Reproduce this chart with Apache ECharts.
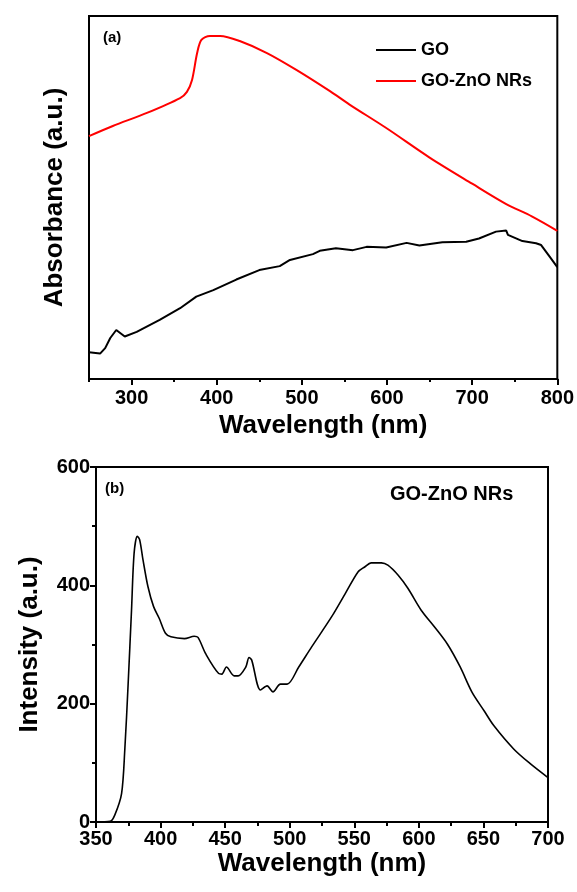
<!DOCTYPE html>
<html><head><meta charset="utf-8">
<script src="https://cdn.jsdelivr.net/npm/echarts@6/dist/echarts.min.js"></script>
<style>html,body{margin:0;padding:0;background:#fff}#c{width:577px;height:892px}</style>
</head><body><div id="c"></div>
<script>
// (a) UV-vis absorbance (arbitrary units, 0-100 scale)
const goWl  = [250,263,269,275,282,292,306,333,357,376,396,423,450,474,486,513,521,540,560,576,599,623,638,665,693,708,728,740,742,759,775,781,791,800];
const goAbs = [7.4,7.0,8.5,11.3,13.5,11.7,13,16.3,19.5,22.7,24.5,27.4,30,31.1,32.8,34.4,35.3,36,35.5,36.4,36.2,37.5,36.8,37.7,37.8,38.7,40.6,40.9,39.7,38,37.4,36.9,33.7,30.8];
const znoWl  = [250,278,318,357,365,371,377,382,392,404,427,459,494,533,556,600,650,700,740,770,800];
const znoAbs = [66.9,69.7,73.3,77.4,79.1,82.4,89.8,93.4,94.5,94.5,93.1,89.8,85.1,79.3,75.6,69,61,53.8,48.2,44.8,40.8];
// (b) PL spectrum
const plWl  = [350,361,364.6,369.8,372.3,374.9,377.5,379.5,382,383.8,386.4,390.2,394.6,399,403.8,408,418.5,426,429,435,445,447.5,451,457,460,466,468.5,470.5,477.4,482.5,487,492.8,498,507,517,532.5,543,553,558,563,571,576,584,591.5,601.8,612,622.3,632,641,650.5,658,673.6,686,700];
const plInt = [0,1,12,48,122,234,358,454,483,477,443,398,364,344,319,313,310,314,312,284,251,250,262,247,247,262,278,274,223,230,220,233,233,262,296,347,386,423,431,438,438,434,417,395,358,330,300,262,220,188,163,123,99,75];

const topXMajor = [300,400,500,600,700,800];
const topXMinor = [250,350,450,550,650,750];
const legendNames = ['GO','GO-ZnO NRs'];

const pair = (xs, ys) => xs.map((x,i)=>[x, ys[i]]);
const FF = '"Liberation Sans", Arial, sans-serif';
const chart = echarts.init(document.getElementById('c'), null, {renderer:'canvas'});
const lbl = {color:'#000', fontFamily:FF, fontWeight:'bold', fontSize:20};
const ttl = {color:'#000', fontFamily:FF, fontWeight:'bold', fontSize:26};
chart.setOption({
  animation:false,
  backgroundColor:'#fff',
  grid:[
    {left:89, right:19, top:16, height:363, show:true, borderColor:'#000', borderWidth:2, containLabel:false},
    {left:96, right:29, top:467, height:355, show:true, borderColor:'#000', borderWidth:2, containLabel:false}
  ],
  legend:{
    data:legendNames, orient:'vertical', left:371, top:36, itemWidth:40, itemHeight:2, itemGap:13,
    icon:'rect', textStyle:{color:'#000', fontFamily:FF, fontWeight:'bold', fontSize:18}
  },
  xAxis:[
    {gridIndex:0, type:'value', min:250, max:800, position:'bottom',
     axisLine:{show:true, lineStyle:{color:'#000', width:2}},
     axisTick:{show:true, customValues:topXMajor, length:6, lineStyle:{color:'#000', width:2}},
     axisLabel:{customValues:topXMajor, margin:9, ...lbl},
     splitLine:{show:false},
     name:'Wavelength (nm)', nameLocation:'middle', nameGap:34, nameTextStyle:ttl},
    {gridIndex:0, type:'value', min:250, max:800, position:'bottom',
     axisLine:{show:false},
     axisTick:{show:true, customValues:topXMinor, length:3, lineStyle:{color:'#000', width:2}},
     axisLabel:{show:false}, splitLine:{show:false}},
    {gridIndex:1, type:'value', min:350, max:700, interval:50, position:'bottom',
     axisLine:{show:true, lineStyle:{color:'#000', width:2}},
     axisTick:{show:true, length:6, lineStyle:{color:'#000', width:2}},
     minorTick:{show:true, splitNumber:2, length:4, lineStyle:{color:'#000', width:2}},
     axisLabel:{margin:7, ...lbl}, splitLine:{show:false},
     name:'Wavelength (nm)', nameLocation:'middle', nameGap:29, nameTextStyle:ttl}
  ],
  yAxis:[
    {gridIndex:0, type:'value', min:0, max:100,
     axisLine:{show:true, lineStyle:{color:'#000', width:2}},
     axisTick:{show:false}, axisLabel:{show:false}, splitLine:{show:false},
     name:'Absorbance (a.u.)', nameLocation:'middle', nameGap:21, nameTextStyle:ttl},
    {gridIndex:1, type:'value', min:0, max:600, interval:200,
     axisLine:{show:true, lineStyle:{color:'#000', width:2}},
     axisTick:{show:true, length:6, lineStyle:{color:'#000', width:2}},
     minorTick:{show:true, splitNumber:2, length:4, lineStyle:{color:'#000', width:2}},
     axisLabel:{margin:6, ...lbl}, splitLine:{show:false},
     name:'Intensity (a.u.)', nameLocation:'middle', nameGap:53, nameTextStyle:ttl}
  ],
  graphic:[
    {type:'text', left:103, top:30, style:{text:'(a)', fill:'#000', font:'bold 15px '+FF}},
    {type:'text', left:105, top:481, style:{text:'(b)', fill:'#000', font:'bold 15px '+FF}},
    {type:'text', left:390, top:484, style:{text:'GO-ZnO NRs', fill:'#000', font:'bold 20px '+FF}}
  ],
  series:[
    {name:'GO', type:'line', xAxisIndex:0, yAxisIndex:0, data:pair(goWl, goAbs), showSymbol:false,
     lineStyle:{color:'#000', width:2}, itemStyle:{color:'#000'}},
    {name:'GO-ZnO NRs', type:'line', xAxisIndex:0, yAxisIndex:0, data:pair(znoWl, znoAbs), showSymbol:false, smooth:0.3,
     lineStyle:{color:'#ff0000', width:2}, itemStyle:{color:'#ff0000'}},
    {name:'PL', type:'line', xAxisIndex:2, yAxisIndex:1, data:pair(plWl, plInt), showSymbol:false, smooth:0.3,
     lineStyle:{color:'#000', width:1.6}, itemStyle:{color:'#000'}}
  ]
});
</script></body></html>
